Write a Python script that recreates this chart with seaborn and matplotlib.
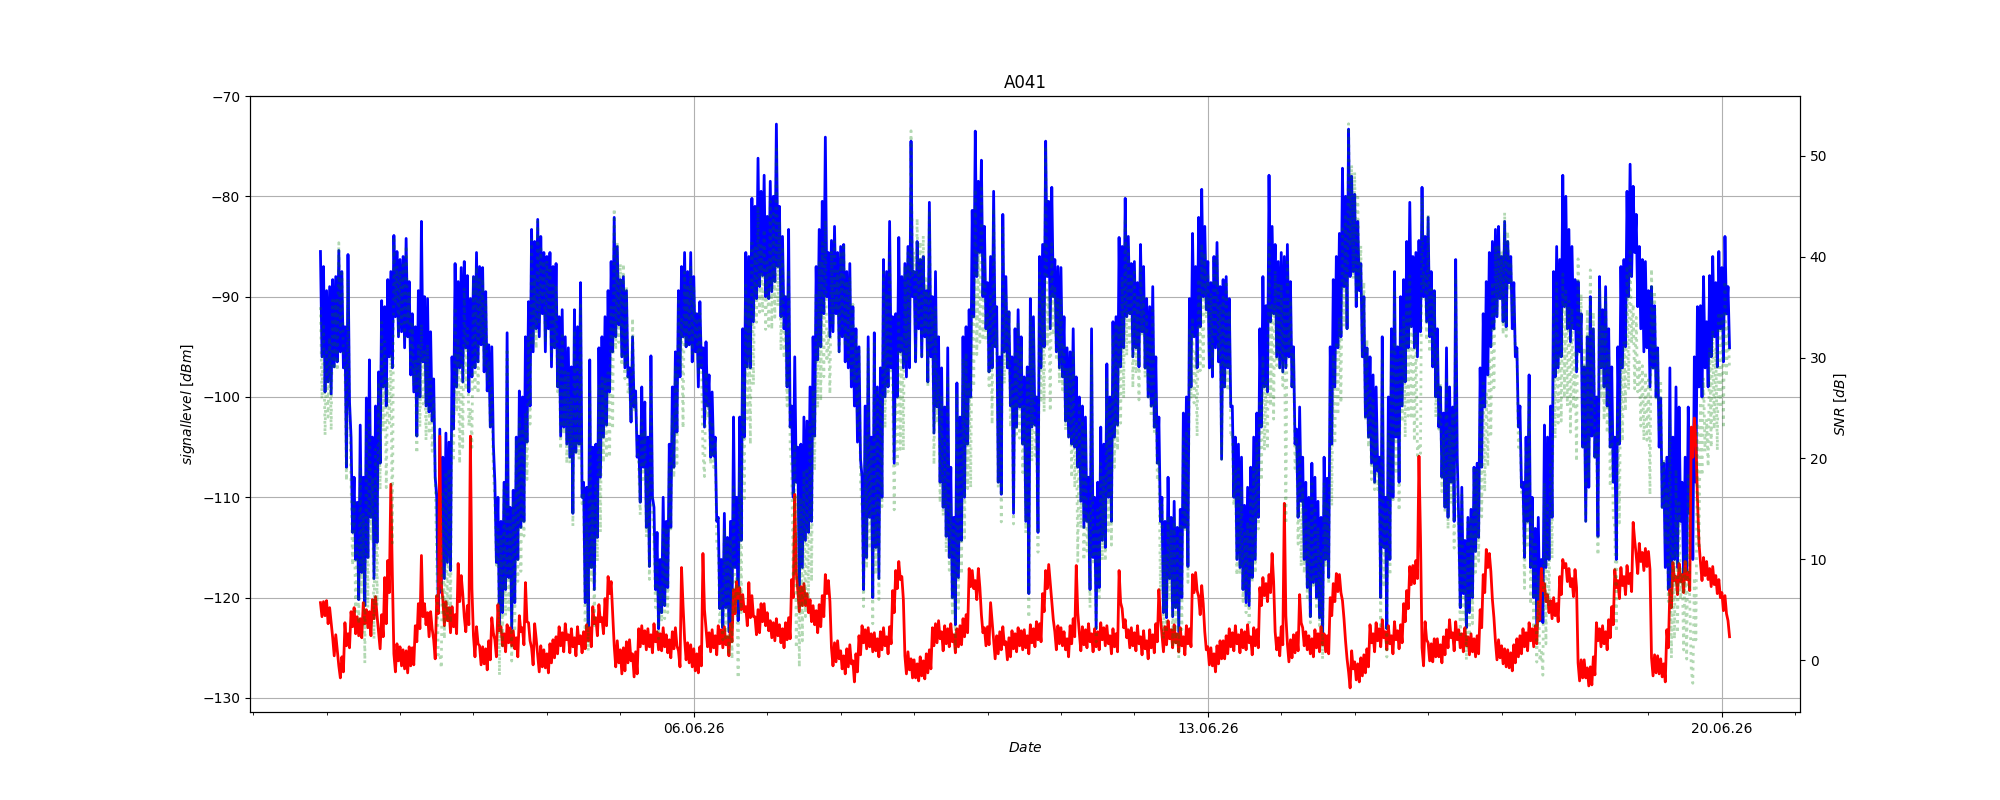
import matplotlib
matplotlib.use('Agg')
import matplotlib.pyplot as plt
import matplotlib.dates as mdates
import numpy as np
import pandas as pd
import seaborn as sns


# two readings per hour, first hour starting 31.05.26 22:00
start = '2026-05-31 22:00'

# signal level [dBm], first reading of each hour
signal = [
    -85.5, -99.5, -89.4, -99.7, -88.3, -96.5, -85.4, -97.1, -107.0, -85.8,
    -113.5, -116.2, -120.2, -102.8, -120.8, -100.1, -96.3, -118.1, -100.9, -106.6,
    -90.4, -100.9, -88.3, -97.1, -83.9, -94.0, -86.3, -95.1, -84.2, -97.8,
    -91.7, -103.9, -89.4, -82.5, -100.9, -90.2, -102.4, -98.2, -121.1, -103.2,
    -118.1, -103.6, -117.3, -103.2, -86.7, -97.1, -87.1, -95.1, -87.9, -90.2,
    -97.1, -85.6, -94.8, -87.1, -99.4, -94.8, -104.7, -108.5, -123.1, -112.4,
    -119.2, -93.6, -123.1, -109.3, -116.2, -99.4, -112.4, -94.0, -100.9, -83.3,
    -93.2, -82.3, -91.7, -85.6, -93.2, -85.6, -95.1, -86.7, -103.9, -91.3,
    -104.7, -95.1, -111.6, -91.3, -104.7, -88.6, -108.5, -123.4, -96.3, -119.2,
    -104.7, -95.1, -94.0, -102.8, -89.4, -95.5, -82.1, -92.8, -88.3, -97.1,
    -89.4, -97.1, -94.0, -99.4, -103.9, -107.0, -100.5, -116.9, -95.9, -119.2,
    -123.1, -116.2, -120.8, -112.4, -104.7, -99.0, -95.5, -89.4, -94.0, -85.6,
    -94.8, -85.6, -95.5, -91.7, -97.1, -95.1, -100.9, -97.8, -105.9, -112.4,
    -121.1, -116.2, -111.6, -123.4, -112.4, -102.0, -122.3, -114.3, -93.2, -85.6,
    -97.1, -80.2, -90.2, -76.2, -87.9, -77.9, -90.2, -78.5, -88.5, -72.8,
    -81.0, -93.2, -99.0, -83.3, -100.9, -108.5, -120.0, -104.7, -114.3, -102.4,
    -112.4, -103.9, -96.3, -83.3, -91.7, -74.1, -85.6, -84.4, -91.7, -85.6,
    -94.0, -84.8, -97.1, -86.7, -100.9, -93.2, -106.2, -119.2, -100.9, -94.0,
    -120.0, -93.6, -118.1, -97.1, -86.3, -87.5, -97.1, -106.6, -91.7, -84.1,
    -97.1, -86.7, -97.1, -74.5, -87.5, -93.2, -86.3, -94.0, -89.4, -80.6,
    -103.6, -87.5, -108.5, -97.1, -113.9, -95.1, -120.0, -122.7, -98.6, -114.3,
    -94.0, -104.7, -91.3, -81.4, -73.5, -85.6, -76.4, -93.2, -88.6, -97.1,
    -79.5, -108.5, -109.7, -81.8, -97.1, -100.9, -111.6, -93.2, -91.3, -104.7,
    -112.4, -119.6, -90.2, -102.8, -113.5, -97.1, -84.8, -74.5, -93.2, -79.1,
    -86.3, -97.1, -87.1, -102.4, -95.1, -104.7, -93.2, -107.0, -110.4, -100.9,
    -112.4, -119.2, -93.2, -123.1, -108.5, -114.3, -104.7, -96.7, -112.4, -92.5,
    -102.8, -84.1, -95.1, -80.2, -91.7, -86.7, -95.1, -88.6, -84.8, -97.1,
    -90.2, -100.9, -89.0, -106.6, -112.4, -121.5, -112.4, -118.1, -121.9, -110.4,
    -123.4, -111.2, -101.6, -116.9, -90.2, -83.7, -97.1, -82.1, -79.3, -91.3,
    -97.1, -88.6, -95.1, -84.6, -106.2, -88.3, -97.1, -90.2, -100.9, -116.2,
    -104.7, -119.2, -110.8, -120.8, -107.0, -116.2, -101.6, -93.2, -99.0, -90.9,
    -77.9, -91.7, -84.8, -97.1, -85.6, -97.1, -84.8, -99.0, -104.7, -103.2,
    -110.4, -116.2, -108.5, -121.9, -106.6, -120.0, -110.4, -124.6, -116.2, -108.1,
    -104.7, -88.3, -95.1, -83.7, -77.2, -93.2, -73.3, -87.5, -79.8, -89.4,
    -86.7, -102.0, -95.1, -106.6, -97.8, -107.4, -120.0, -94.0, -123.1, -116.2,
    -93.2, -87.5, -108.5, -100.9, -88.3, -95.1, -80.6, -95.1, -85.6, -84.4,
    -79.1, -92.5, -82.1, -87.5, -89.4, -93.2, -99.0, -101.6, -95.1, -108.5,
    -112.4, -86.3, -112.4, -119.6, -114.3, -121.5, -111.2, -115.4, -106.6, -97.1,
    -91.7, -97.8, -85.6, -93.2, -83.3, -90.2, -92.5, -82.5, -88.6, -93.2,
    -88.6, -95.1, -100.9, -108.5, -112.4, -97.8, -120.0, -113.1, -122.3, -116.2,
    -102.8, -116.2, -100.9, -87.5, -97.1, -86.3, -77.9, -93.2, -83.3, -93.2,
    -88.3, -95.5, -91.7, -112.4, -94.0, -103.9, -93.2, -113.9, -97.1, -91.3,
    -100.9, -93.2, -108.5, -116.2, -104.7, -97.1, -86.3, -79.5, -76.8, -85.6,
    -81.8, -93.2, -86.3, -95.1, -89.4, -97.1, -90.9, -95.1, -100.1, -106.6,
    -119.2, -97.1, -116.2, -99.0, -112.4, -108.5, -118.1, -111.6, -116.2, -108.5,
    -99.0, -90.9, -97.1, -92.5, -87.9, -94.0, -88.6, -93.2, -87.1, -91.7,
    -95.1,
]

# signal level [dBm], second reading of each hour
signal_b = [
    -96.0, -87.0, -98.5, -89.0, -97.0, -88.0, -95.5, -87.5, -93.0, -100.5,
    -104.0, -108.0, -110.5, -117.5, -108.0, -116.0, -112.0, -104.0, -114.5, -97.5,
    -99.0, -91.0, -96.0, -87.5, -92.0, -85.5, -93.5, -86.0, -94.0, -88.5,
    -99.5, -93.0, -100.0, -96.5, -90.0, -101.5, -93.5, -108.0, -110.0, -119.5,
    -106.0, -116.5, -104.5, -96.0, -99.0, -88.5, -98.5, -86.5, -99.5, -98.0,
    -88.0, -96.5, -87.0, -97.5, -89.5, -103.0, -95.0, -116.5, -110.0, -121.5,
    -108.5, -118.0, -111.0, -120.5, -104.0, -113.0, -100.0, -104.5, -90.5, -95.5,
    -84.5, -94.0, -84.0, -95.5, -86.0, -97.0, -87.0, -99.0, -92.0, -103.0,
    -94.0, -106.0, -97.0, -105.5, -93.0, -110.0, -120.5, -109.0, -117.0, -105.0,
    -114.0, -108.0, -104.0, -92.0, -99.5, -86.5, -94.0, -85.0, -96.0, -88.0,
    -98.0, -102.5, -101.0, -106.0, -110.5, -99.0, -113.0, -104.0, -110.0, -111.0,
    -113.5, -121.5, -110.0, -119.0, -113.0, -107.0, -103.5, -98.0, -87.0, -95.0,
    -87.5, -96.5, -88.0, -99.0, -90.5, -103.0, -94.5, -106.0, -99.5, -104.0,
    -112.0, -123.0, -121.0, -114.0, -122.5, -117.0, -110.0, -102.0, -104.0, -97.0,
    -86.0, -92.5, -81.0, -89.0, -79.5, -90.0, -82.0, -89.5, -80.0, -87.0,
    -92.0, -84.0, -90.0, -103.0, -110.0, -96.0, -105.0, -117.0, -102.0, -113.5,
    -99.0, -94.0, -87.0, -95.0, -80.5, -90.0, -94.0, -93.5, -83.0, -95.5,
    -85.0, -96.5, -87.5, -99.0, -91.0, -104.5, -95.0, -108.0, -116.0, -112.0,
    -104.0, -115.0, -99.0, -110.0, -100.0, -99.0, -82.5, -92.0, -100.0, -95.5,
    -88.0, -98.0, -85.0, -90.0, -96.5, -84.5, -96.0, -86.0, -98.5, -96.0,
    -90.0, -101.0, -94.0, -111.0, -101.0, -116.0, -107.0, -112.0, -118.0, -102.0,
    -110.0, -93.0, -100.0, -92.0, -88.0, -78.5, -90.0, -83.0, -97.5, -86.0,
    -95.0, -91.0, -96.0, -95.5, -88.0, -91.5, -96.0, -103.0, -101.0, -94.0,
    -98.0, -97.0, -103.0, -92.0, -100.0, -86.0, -95.0, -88.0, -80.5, -90.0,
    -95.5, -87.0, -98.0, -92.0, -104.0, -95.5, -105.0, -98.0, -100.0, -113.0,
    -102.0, -108.0, -116.0, -110.0, -119.0, -103.0, -115.0, -110.0, -100.0, -104.0,
    -92.0, -97.0, -85.0, -92.0, -84.0, -96.0, -86.5, -97.0, -93.5, -87.0,
    -100.0, -91.0, -103.0, -96.0, -102.0, -110.0, -122.0, -108.0, -112.0, -121.0,
    -113.0, -120.0, -113.0, -100.0, -99.0, -94.0, -87.0, -93.0, -90.0, -83.0,
    -86.5, -98.0, -86.0, -96.5, -89.0, -99.0, -88.0, -101.0, -110.0, -104.0,
    -117.0, -106.0, -120.5, -109.0, -118.0, -104.0, -112.0, -103.0, -88.0, -99.5,
    -92.5, -83.0, -96.0, -86.5, -97.5, -86.0, -96.0, -88.5, -95.0, -112.0,
    -101.0, -106.0, -119.0, -110.0, -118.5, -108.0, -122.0, -112.0, -106.0, -118.0,
    -95.0, -99.0, -86.0, -94.0, -89.0, -80.0, -88.0, -78.0, -91.0, -82.5,
    -96.0, -90.0, -104.0, -96.0, -108.5, -99.0, -106.0, -115.0, -110.0, -100.0,
    -110.0, -104.0, -95.0, -90.0, -98.5, -84.5, -93.0, -86.0, -96.0, -93.5,
    -90.0, -84.0, -94.0, -97.0, -100.0, -103.0, -108.0, -111.0, -112.0, -99.0,
    -101.0, -106.0, -121.0, -109.0, -123.0, -112.0, -120.0, -107.0, -114.0, -107.0,
    -101.0, -88.5, -95.0, -84.5, -92.0, -83.0, -86.0, -93.0, -84.5, -86.0,
    -96.0, -103.0, -109.0, -116.0, -104.0, -117.0, -110.0, -123.0, -112.0, -122.5,
    -117.0, -104.0, -112.0, -98.0, -85.0, -96.0, -91.0, -80.0, -94.5, -85.0,
    -97.5, -88.5, -105.0, -97.0, -109.0, -90.0, -106.0, -100.0, -88.0, -99.0,
    -89.0, -105.0, -97.0, -104.0, -95.0, -87.0, -95.0, -90.0, -88.0, -79.0,
    -91.0, -85.0, -95.5, -86.5, -99.0, -89.0, -100.0, -105.0, -111.0, -117.0,
    -106.0, -119.0, -104.0, -117.0, -101.0, -118.5, -106.0, -101.0, -104.0, -96.0,
    -91.0, -100.0, -88.0, -99.0, -96.0, -86.0, -97.0, -85.5, -96.5, -84.0,
    -89.0,
]

# noise level [dBm], first reading of each hour
noise = [
    -120.5, -121.8, -120.3, -122.5, -124.0, -125.2, -126.8, -127.4, -124.8, -123.6,
    -122.9, -121.0, -123.8, -122.1, -120.5, -123.0, -121.4, -120.2, -121.8, -123.5,
    -123.9, -118.0, -116.3, -108.7, -125.6, -126.3, -124.9, -127.1, -125.3, -126.8,
    -125.0, -124.4, -120.6, -115.8, -122.7, -121.5, -123.1, -124.2, -121.6, -103.9,
    -120.2, -122.3, -121.0, -122.9, -121.7, -116.6, -117.8, -121.9, -120.8, -103.9,
    -123.8, -124.6, -126.7, -124.9, -127.2, -124.3, -123.5, -124.2, -120.7, -124.8,
    -123.6, -124.5, -123.0, -125.1, -124.0, -123.4, -124.7, -118.5, -124.3, -125.0,
    -124.1, -125.8, -126.9, -125.2, -127.5, -124.6, -126.0, -123.9, -124.8, -123.5,
    -124.2, -123.7, -124.9, -124.0, -124.6, -123.8, -125.1, -124.3, -123.0, -122.6,
    -122.0, -122.4, -122.0, -122.8, -117.9, -118.4, -126.9, -124.3, -127.6, -125.0,
    -126.5, -124.2, -127.9, -125.4, -123.1, -124.6, -123.3, -124.9, -123.7, -124.4,
    -125.2, -123.6, -124.9, -125.5, -124.2, -123.4, -124.8, -125.3, -117.0, -124.1,
    -126.5, -124.7, -127.3, -125.6, -126.8, -115.6, -124.9, -123.5, -125.0, -123.8,
    -124.6, -123.2, -124.7, -123.9, -124.4, -119.2, -120.1, -119.0, -121.4, -122.8,
    -118.5, -121.9, -123.7, -121.2, -122.4, -120.6, -123.3, -124.0, -122.5, -123.8,
    -124.5, -123.1, -124.2, -122.0, -120.0, -109.7, -119.3, -120.8, -118.6, -121.5,
    -120.2, -122.7, -121.3, -122.9, -119.8, -117.7, -118.3, -125.0, -126.4, -124.3,
    -127.1, -125.8, -126.9, -124.7, -128.4, -125.6, -123.8, -124.5, -123.2, -124.9,
    -123.6, -125.3, -124.1, -123.4, -124.8, -123.9, -124.6, -121.5, -117.3, -118.2,
    -117.9, -125.8, -127.2, -126.1, -128.0, -126.6, -127.8, -126.3, -127.5, -125.2,
    -123.0, -122.6, -124.1, -123.4, -124.6, -123.1, -124.4, -123.7, -124.9, -122.8,
    -123.9, -121.7, -118.9, -117.3, -120.2, -117.1, -123.5, -124.8, -122.9, -120.5,
    -124.3, -125.6, -123.4, -124.7, -126.2, -124.0, -125.1, -123.6, -124.8, -123.3,
    -125.0, -123.8, -124.5, -123.1, -124.2, -122.6, -121.4, -117.3, -118.5, -120.4,
    -123.4, -124.6, -123.0, -125.2, -124.1, -122.8, -123.9, -116.8, -123.5, -124.7,
    -123.2, -124.4, -123.6, -124.9, -123.4, -124.2, -123.0, -124.6, -123.8, -124.9,
    -123.6, -117.3, -121.1, -124.0, -123.2, -124.8, -123.5, -124.6, -123.9, -125.1,
    -124.3, -125.0, -123.7, -124.4, -119.2, -123.6, -122.9, -124.1, -123.2, -124.5,
    -123.6, -124.8, -123.9, -124.6, -123.1, -117.7, -119.3, -119.9, -120.6, -125.2,
    -126.7, -125.0, -127.4, -124.8, -126.1, -124.3, -123.8, -124.9, -123.5, -124.6,
    -123.7, -125.0, -123.4, -124.5, -123.9, -124.8, -123.2, -119.0, -119.8, -118.6,
    -119.5, -115.6, -123.4, -125.8, -122.9, -110.6, -124.6, -126.0, -123.7, -125.3,
    -119.7, -124.8, -123.4, -125.6, -124.1, -125.0, -123.6, -124.7, -125.4, -123.8,
    -120.0, -118.6, -119.4, -117.7, -120.3, -126.1, -127.4, -125.3, -128.2, -126.6,
    -127.8, -125.7, -126.9, -124.5, -123.6, -124.3, -123.1, -124.0, -123.4, -124.6,
    -123.8, -124.2, -123.3, -124.5, -122.4, -119.3, -118.7, -116.8, -118.1, -105.9,
    -125.0, -124.2, -126.3, -124.6, -125.9, -124.1, -126.5, -123.9, -123.2, -124.0,
    -123.5, -124.2, -125.0, -123.6, -124.8, -123.9, -125.4, -124.1, -125.6, -123.0,
    -119.5, -117.0, -115.6, -120.2, -124.4, -126.0, -124.8, -126.9, -125.2, -127.3,
    -124.7, -125.9, -123.8, -124.9, -123.5, -124.3, -123.1, -124.6, -122.2, -117.1,
    -120.4, -121.5, -120.3, -121.8, -120.6, -117.9, -116.2, -118.4, -118.9, -118.1,
    -119.0, -126.5, -128.0, -126.2, -128.8, -126.9, -127.7, -124.3, -123.1, -124.6,
    -123.4, -124.0, -122.7, -119.0, -118.3, -118.8, -117.9, -118.6, -117.6, -112.5,
    -115.8, -116.4, -115.5, -116.9, -117.2, -126.0, -127.5, -125.8, -127.9, -126.6,
    -125.0, -121.0, -118.3, -117.9, -118.4, -117.7, -118.2, -117.5, -106.0, -102.1,
    -110.0, -116.5, -117.8, -116.4, -118.9, -116.9, -119.6, -118.2, -121.3, -119.8,
    -123.9,
]

# noise level [dBm], second reading of each hour
noise_b = [
    -121.9, -120.4, -122.6, -121.0, -125.8, -123.7, -128.0, -125.9, -122.5, -125.0,
    -121.4, -123.6, -121.9, -124.0, -122.6, -121.2, -123.8, -122.1, -119.9, -125.1,
    -121.7, -122.6, -119.5, -117.8, -127.4, -124.6, -126.8, -125.2, -127.5, -124.9,
    -126.7, -122.8, -123.1, -121.9, -120.6, -123.9, -121.4, -126.1, -119.8, -118.7,
    -122.8, -120.4, -123.5, -120.9, -123.6, -120.4, -119.6, -123.4, -122.7, -119.1,
    -125.9, -122.9, -124.8, -126.6, -125.1, -126.2, -122.0, -125.9, -123.3, -122.9,
    -125.4, -122.7, -124.8, -123.3, -125.9, -121.8, -123.0, -122.4, -122.5, -126.7,
    -122.6, -127.4, -124.8, -127.0, -125.6, -126.5, -124.2, -125.6, -122.9, -125.4,
    -122.6, -125.5, -123.1, -125.8, -122.9, -125.5, -123.4, -122.7, -124.9, -120.9,
    -123.8, -120.7, -123.6, -120.1, -119.6, -121.5, -124.8, -126.5, -125.2, -127.3,
    -124.4, -126.3, -125.6, -127.6, -124.9, -122.8, -125.2, -123.1, -125.5, -122.6,
    -123.4, -125.3, -123.0, -123.7, -126.0, -125.1, -123.0, -126.9, -120.8, -126.2,
    -124.5, -126.9, -125.1, -127.5, -124.9, -121.2, -123.1, -125.4, -123.2, -125.7,
    -122.8, -125.0, -122.9, -125.8, -122.6, -121.6, -118.4, -121.2, -119.7, -120.9,
    -122.0, -119.8, -121.9, -123.5, -120.6, -122.8, -121.5, -122.3, -124.3, -122.1,
    -122.7, -125.0, -122.5, -124.1, -118.2, -117.5, -121.4, -118.9, -120.8, -119.6,
    -122.4, -120.8, -123.5, -120.7, -121.9, -119.6, -120.4, -126.8, -124.5, -126.1,
    -125.3, -127.6, -125.1, -126.6, -126.3, -127.4, -125.7, -122.8, -125.1, -123.0,
    -125.4, -123.5, -125.9, -125.2, -123.0, -125.6, -122.9, -119.3, -119.1, -116.4,
    -120.2, -127.6, -125.4, -128.0, -126.2, -128.3, -125.9, -128.1, -125.6, -127.1,
    -124.8, -124.5, -122.3, -125.3, -122.8, -124.9, -122.6, -125.5, -123.1, -124.7,
    -122.1, -123.5, -117.1, -119.1, -118.3, -119.0, -121.7, -123.0, -124.7, -122.4,
    -126.1, -123.8, -125.2, -122.9, -124.4, -125.9, -123.3, -125.4, -123.0, -125.2,
    -123.2, -125.6, -122.7, -124.9, -122.4, -124.4, -119.6, -119.1, -116.7, -122.2,
    -125.2, -122.8, -124.8, -123.4, -125.9, -124.6, -122.1, -121.5, -125.3, -122.9,
    -125.0, -122.6, -125.4, -123.1, -125.2, -122.5, -124.8, -122.8, -125.6, -123.1,
    -125.4, -120.5, -123.0, -122.2, -125.0, -123.0, -125.3, -122.8, -125.7, -123.3,
    -126.1, -123.2, -125.5, -122.6, -121.9, -125.4, -124.7, -122.3, -125.0, -122.7,
    -125.4, -123.0, -125.7, -122.8, -124.9, -119.5, -117.5, -121.7, -118.8, -123.4,
    -124.9, -126.8, -125.6, -126.6, -124.3, -126.1, -125.6, -123.1, -125.3, -122.8,
    -125.5, -123.2, -125.2, -122.7, -125.7, -123.0, -125.0, -120.8, -118.0, -120.4,
    -117.7, -118.4, -125.2, -124.0, -124.7, -121.8, -126.4, -124.2, -125.5, -123.5,
    -122.5, -123.0, -125.2, -123.8, -125.9, -123.2, -125.4, -122.9, -123.6, -125.6,
    -121.8, -120.4, -117.6, -119.5, -122.1, -124.3, -129.0, -127.1, -126.4, -128.4,
    -126.0, -127.5, -125.1, -122.7, -125.4, -122.5, -124.9, -122.2, -125.2, -122.8,
    -125.6, -122.4, -125.1, -122.7, -120.6, -121.1, -116.9, -118.6, -116.3, -114.0,
    -126.8, -122.4, -124.5, -126.4, -124.1, -125.9, -124.7, -125.7, -125.0, -122.2,
    -125.3, -122.4, -123.2, -125.4, -123.0, -125.7, -123.6, -125.9, -123.8, -121.2,
    -117.7, -115.2, -117.4, -122.0, -126.2, -124.2, -126.6, -125.1, -127.0, -125.5,
    -126.5, -124.1, -125.6, -123.1, -125.3, -122.5, -124.9, -122.8, -120.4, -119.3,
    -118.6, -119.7, -122.1, -120.0, -122.4, -119.7, -117.0, -116.6, -117.1, -119.9,
    -117.2, -128.3, -126.2, -128.0, -127.0, -128.7, -125.9, -122.5, -124.9, -122.8,
    -125.2, -122.2, -120.9, -117.2, -120.1, -117.0, -119.7, -116.8, -119.4, -114.3,
    -117.6, -114.6, -117.3, -115.1, -115.4, -127.8, -125.7, -127.6, -126.1, -128.4,
    -123.2, -119.2, -116.5, -119.7, -116.6, -119.5, -116.4, -119.3, -103.0, -104.2,
    -114.5, -118.3, -116.0, -118.2, -117.1, -118.7, -117.8, -120.0, -119.5, -121.6,
    -122.3,
]

# SNR [dB], first reading of each hour
snr = [
    35.0, 22.3, 30.9, 22.8, 35.7, 28.7, 41.4, 30.3, 17.8, 37.8,
    9.4, 4.8, 3.6, 19.3, -0.3, 22.9, 25.1, 2.1, 20.9, 16.9,
    33.5, 17.1, 28.0, 11.6, 41.7, 32.3, 38.6, 32.0, 41.1, 29.0,
    33.3, 20.5, 31.2, 33.3, 21.8, 31.3, 20.7, 26.0, 0.5, 0.7,
    2.1, 18.7, 3.7, 19.7, 35.0, 19.5, 30.7, 26.8, 32.9, 25.0,
    26.7, 39.0, 31.9, 37.8, 27.8, 29.5, 18.8, 15.7, -1.5, 12.4,
    4.4, 30.9, -0.1, 15.8, 7.8, 24.0, 12.3, 24.5, 23.4, 41.7,
    30.9, 43.5, 35.2, 39.6, 34.3, 39.0, 30.9, 37.2, 20.9, 32.2,
    19.5, 28.6, 13.3, 32.7, 19.9, 35.2, 16.6, 0.9, 26.7, 3.4,
    17.3, 27.3, 28.0, 20.0, 28.5, 22.9, 44.8, 31.5, 39.3, 27.9,
    37.1, 27.1, 33.9, 26.0, 19.2, 17.6, 22.8, 8.0, 27.8, 5.2,
    2.1, 7.4, 4.1, 13.1, 19.5, 24.4, 29.3, 35.9, 23.0, 38.5,
    31.7, 39.1, 31.8, 33.9, 29.7, 20.5, 24.0, 25.7, 19.1, 11.4,
    3.5, 7.0, 13.1, 0.5, 12.0, 17.2, -1.8, 4.7, 28.2, 37.2,
    21.4, 41.7, 33.5, 45.0, 34.5, 42.7, 33.1, 45.5, 34.0, 51.0,
    43.5, 29.9, 25.2, 38.7, 19.1, 1.2, -0.7, 16.1, 4.3, 19.1,
    7.8, 18.8, 25.0, 39.6, 28.1, 43.6, 32.7, 40.6, 34.7, 38.7,
    33.1, 41.0, 29.8, 38.0, 27.5, 32.4, 17.6, 5.3, 22.3, 30.9,
    3.6, 31.7, 6.0, 26.3, 38.5, 36.4, 27.5, 14.9, 25.6, 34.1,
    20.8, 39.1, 30.1, 52.5, 40.5, 33.4, 41.5, 32.3, 38.1, 44.6,
    19.4, 35.1, 15.6, 26.3, 10.7, 28.0, 4.4, 1.0, 26.3, 8.5,
    29.9, 17.0, 27.6, 35.9, 46.7, 31.5, 47.1, 31.6, 34.3, 23.4,
    44.8, 17.1, 13.7, 42.9, 29.1, 23.1, 13.5, 30.4, 33.5, 18.6,
    12.6, 4.2, 34.3, 20.3, 10.7, 25.5, 36.6, 51.0, 24.7, 41.3,
    37.1, 27.5, 35.9, 22.8, 29.0, 18.1, 30.7, 9.8, 13.1, 23.8,
    10.8, 5.2, 30.4, 1.8, 14.9, 9.9, 18.3, 27.9, 11.4, 32.4,
    20.8, 33.2, 26.0, 43.8, 31.5, 38.1, 28.4, 36.0, 39.1, 28.0,
    34.1, 24.1, 34.7, 17.8, 6.8, 2.1, 10.5, 6.0, 1.3, 14.1,
    0.2, 13.6, 22.3, 7.7, 32.9, 34.0, 22.2, 37.8, 41.3, 33.9,
    29.6, 36.4, 32.3, 40.2, 19.9, 36.0, 26.7, 34.7, 22.6, 8.4,
    19.0, 5.8, 12.6, 3.7, 16.9, 8.6, 21.6, 25.8, 20.8, 27.7,
    41.6, 23.9, 38.6, 28.7, 37.3, 13.5, 39.8, 27.0, 19.0, 22.1,
    9.3, 8.6, 14.9, 3.7, 17.5, 5.0, 13.2, 0.1, 9.2, 15.7,
    15.3, 30.3, 24.3, 34.0, 43.1, 32.9, 53.2, 37.8, 48.4, 37.2,
    41.1, 23.7, 31.8, 17.9, 25.8, 16.9, 3.1, 30.0, 0.3, 8.4,
    30.6, 36.7, 14.8, 23.6, 34.1, 24.2, 38.1, 21.7, 32.5, 21.5,
    45.9, 31.7, 44.2, 37.1, 36.5, 30.9, 27.5, 22.3, 28.1, 15.5,
    11.1, 37.9, 12.6, 4.0, 10.5, 2.4, 14.2, 8.7, 19.0, 25.9,
    27.8, 19.2, 30.0, 27.0, 41.1, 35.8, 32.3, 44.4, 36.6, 34.1,
    36.1, 30.8, 22.9, 16.4, 11.1, 26.5, 3.1, 11.5, -0.1, 0.9,
    17.6, 5.3, 19.4, 34.3, 23.5, 31.6, 38.3, 25.2, 35.6, 24.9,
    30.7, 31.0, 36.3, 13.8, 34.8, 23.0, 34.5, 10.4, 26.0, 33.3,
    22.5, 30.8, 14.2, 2.8, 13.6, 21.7, 31.6, 39.1, 40.8, 26.9,
    34.0, 23.2, 29.2, 21.8, 27.8, 28.9, 36.6, 30.7, 27.8, 20.0,
    5.8, 23.9, 2.1, 18.9, 6.0, 9.2, 0.1, 5.9, -2.3, 2.0,
    11.0, 25.6, 20.7, 23.9, 31.0, 22.9, 31.0, 25.0, 34.2, 28.1,
    28.8,
]

# SNR [dB], second reading of each hour
snr_b = [
    25.9, 33.4, 24.1, 32.0, 28.8, 35.7, 32.5, 38.4, 29.5, 24.5,
    17.4, 15.6, 11.4, 6.5, 14.6, 5.2, 11.8, 18.1, 5.4, 27.6,
    22.7, 31.6, 23.5, 30.3, 35.4, 39.1, 33.3, 39.2, 33.5, 36.4,
    27.2, 29.8, 23.1, 25.4, 30.6, 22.4, 27.9, 18.1, 9.8, -0.8,
    16.8, 3.9, 19.0, 24.9, 24.6, 31.9, 21.1, 36.9, 23.2, 21.1,
    37.9, 26.4, 37.8, 29.1, 35.6, 23.2, 27.0, 9.4, 13.3, 1.4,
    16.9, 4.7, 13.8, 2.8, 21.9, 8.8, 23.0, 17.9, 32.0, 31.2,
    38.1, 33.4, 40.8, 31.5, 39.6, 29.5, 37.2, 26.6, 30.9, 22.4,
    28.6, 19.5, 26.1, 20.3, 29.9, 15.5, 2.9, 13.7, 7.9, 15.9,
    9.8, 12.7, 19.6, 28.1, 20.1, 35.0, 30.8, 41.5, 29.2, 39.3,
    26.4, 23.8, 24.6, 21.6, 14.4, 23.8, 12.2, 19.1, 15.5, 11.6,
    9.9, 3.8, 13.0, 4.7, 13.0, 18.1, 19.5, 28.9, 33.8, 31.2,
    37.0, 30.4, 37.1, 28.5, 34.4, 18.2, 28.6, 19.4, 23.7, 21.7,
    10.8, 2.0, 1.9, 11.8, 0.1, 4.6, 8.4, 19.2, 15.7, 23.9,
    36.0, 27.3, 40.9, 34.5, 41.1, 32.8, 39.5, 32.8, 44.3, 35.1,
    30.7, 41.0, 32.5, 21.1, 8.2, 21.5, 16.4, 1.9, 18.8, 6.1,
    23.4, 26.8, 36.5, 25.7, 41.4, 29.6, 26.4, 33.3, 41.5, 30.6,
    40.3, 31.1, 37.6, 27.6, 35.3, 22.9, 30.7, 14.8, 9.1, 11.0,
    21.4, 8.5, 26.9, 15.2, 23.0, 26.6, 40.4, 27.3, 19.1, 20.9,
    32.2, 29.6, 40.4, 38.0, 29.7, 43.8, 29.9, 42.1, 27.1, 31.1,
    34.8, 23.5, 28.3, 14.3, 21.8, 8.9, 15.6, 13.5, 5.1, 22.7,
    12.1, 30.5, 17.1, 27.1, 30.3, 40.5, 31.7, 40.0, 27.2, 36.4,
    31.1, 32.8, 29.2, 27.4, 36.4, 34.4, 27.3, 22.4, 22.0, 31.2,
    25.2, 28.6, 19.7, 32.9, 22.4, 38.4, 24.6, 31.1, 36.2, 32.2,
    29.7, 35.8, 26.8, 31.4, 21.9, 29.1, 17.1, 23.5, 25.3, 9.9,
    23.0, 14.6, 9.4, 13.1, 6.2, 19.5, 9.8, 12.8, 25.6, 19.1,
    33.4, 23.5, 38.0, 30.2, 41.0, 27.0, 38.8, 25.8, 32.2, 36.3,
    26.1, 32.2, 22.5, 26.6, 19.9, 15.4, 2.7, 14.3, 13.0, 1.7,
    12.4, 3.0, 12.7, 22.8, 25.9, 25.5, 30.5, 28.7, 28.8, 40.4,
    38.4, 28.8, 39.6, 30.1, 35.3, 27.1, 37.6, 22.1, 15.3, 18.8,
    8.5, 17.2, 4.7, 13.7, 7.7, 19.0, 13.0, 17.8, 30.0, 20.9,
    25.2, 35.4, 29.2, 37.5, 27.2, 35.8, 30.4, 35.7, 30.5, 11.5,
    21.5, 17.0, 6.2, 13.8, 7.4, 15.2, 3.4, 10.9, 17.6, 7.6,
    26.8, 21.4, 31.6, 25.5, 33.1, 44.3, 41.0, 49.1, 35.4, 45.9,
    30.0, 37.5, 21.1, 26.7, 16.9, 23.5, 18.9, 7.2, 15.2, 22.8,
    15.6, 18.4, 30.1, 32.7, 22.1, 36.6, 23.9, 32.6, 20.3, 20.5,
    36.8, 38.4, 30.5, 29.4, 24.1, 22.9, 16.7, 14.7, 13.0, 23.2,
    24.3, 16.4, 2.2, 16.4, 0.0, 13.7, 3.6, 18.9, 9.8, 14.2,
    16.7, 26.7, 22.4, 37.5, 34.2, 41.2, 40.6, 32.1, 42.5, 39.5,
    30.5, 21.1, 16.6, 7.1, 21.3, 5.5, 14.9, -0.2, 8.4, -1.5,
    1.6, 15.7, 10.1, 22.0, 37.4, 23.7, 26.0, 36.6, 22.6, 34.9,
    19.7, 39.8, 21.2, 31.0, 18.0, 38.7, 19.9, 22.5, 36.9, 23.8,
    36.2, 17.2, 23.9, 13.2, 25.1, 30.0, 24.7, 26.8, 31.4, 35.3,
    26.6, 29.6, 21.8, 28.6, 16.4, 38.8, 25.7, 22.6, 15.1, 11.4,
    17.2, 0.2, 12.5, 2.7, 15.6, 1.0, 10.4, 18.3, -1.0, 8.2,
    23.5, 18.3, 28.0, 19.2, 21.1, 32.7, 20.8, 34.5, 23.0, 37.6,
    33.3,
]


def interleave(first, second):
    # higher reading of each hour at hh:00, lower one at hh:30
    a = np.asarray(first)
    b = np.asarray(second)
    return np.maximum(a, b), np.minimum(a, b)


def main():

    hours = pd.date_range(start, periods=len(signal), freq='h')
    half = hours + pd.Timedelta(minutes=30)

    sig_hi, sig_lo = interleave(signal, signal_b)
    noi_hi, noi_lo = interleave(noise, noise_b)
    snr_hi, snr_lo = interleave(snr, snr_b)

    df = pd.concat([
        pd.DataFrame({'time': hours, 'signal': sig_hi, 'noise': noi_hi, 'snr': snr_hi}),
        pd.DataFrame({'time': half, 'signal': sig_lo, 'noise': noi_lo, 'snr': snr_lo}),
    ]).sort_values('time').reset_index(drop=True)

    fig, ax1 = plt.subplots(figsize=(20, 8))

    sns.lineplot(data=df, x='time', y='signal', ax=ax1, color='blue', linewidth=2)
    sns.lineplot(data=df, x='time', y='noise', ax=ax1, color='red', linewidth=2)
    ax1.set_ylim(-131.4, -70)

    ax2 = ax1.twinx()
    sns.lineplot(data=df, x='time', y='snr', ax=ax2, color='green',
                 linestyle=':', alpha=0.3, linewidth=2)
    ax2.set_ylim(-5.15, 55.95)

    ax1.xaxis.set_major_locator(mdates.DayLocator(bymonthday=[6, 13, 20]))
    ax1.xaxis.set_minor_locator(mdates.DayLocator())
    ax1.xaxis.set_major_formatter(mdates.DateFormatter('%d.%m.%y'))
    ax1.grid(True)

    ax1.set_title('A041')
    ax1.set_xlabel('$Date$')
    ax1.set_ylabel(r'$signallevel\ [dBm]$')
    ax2.set_ylabel(r'$SNR\ [dB]$')

    fig.savefig('out.png', dpi=100)


if __name__ == '__main__': main()
